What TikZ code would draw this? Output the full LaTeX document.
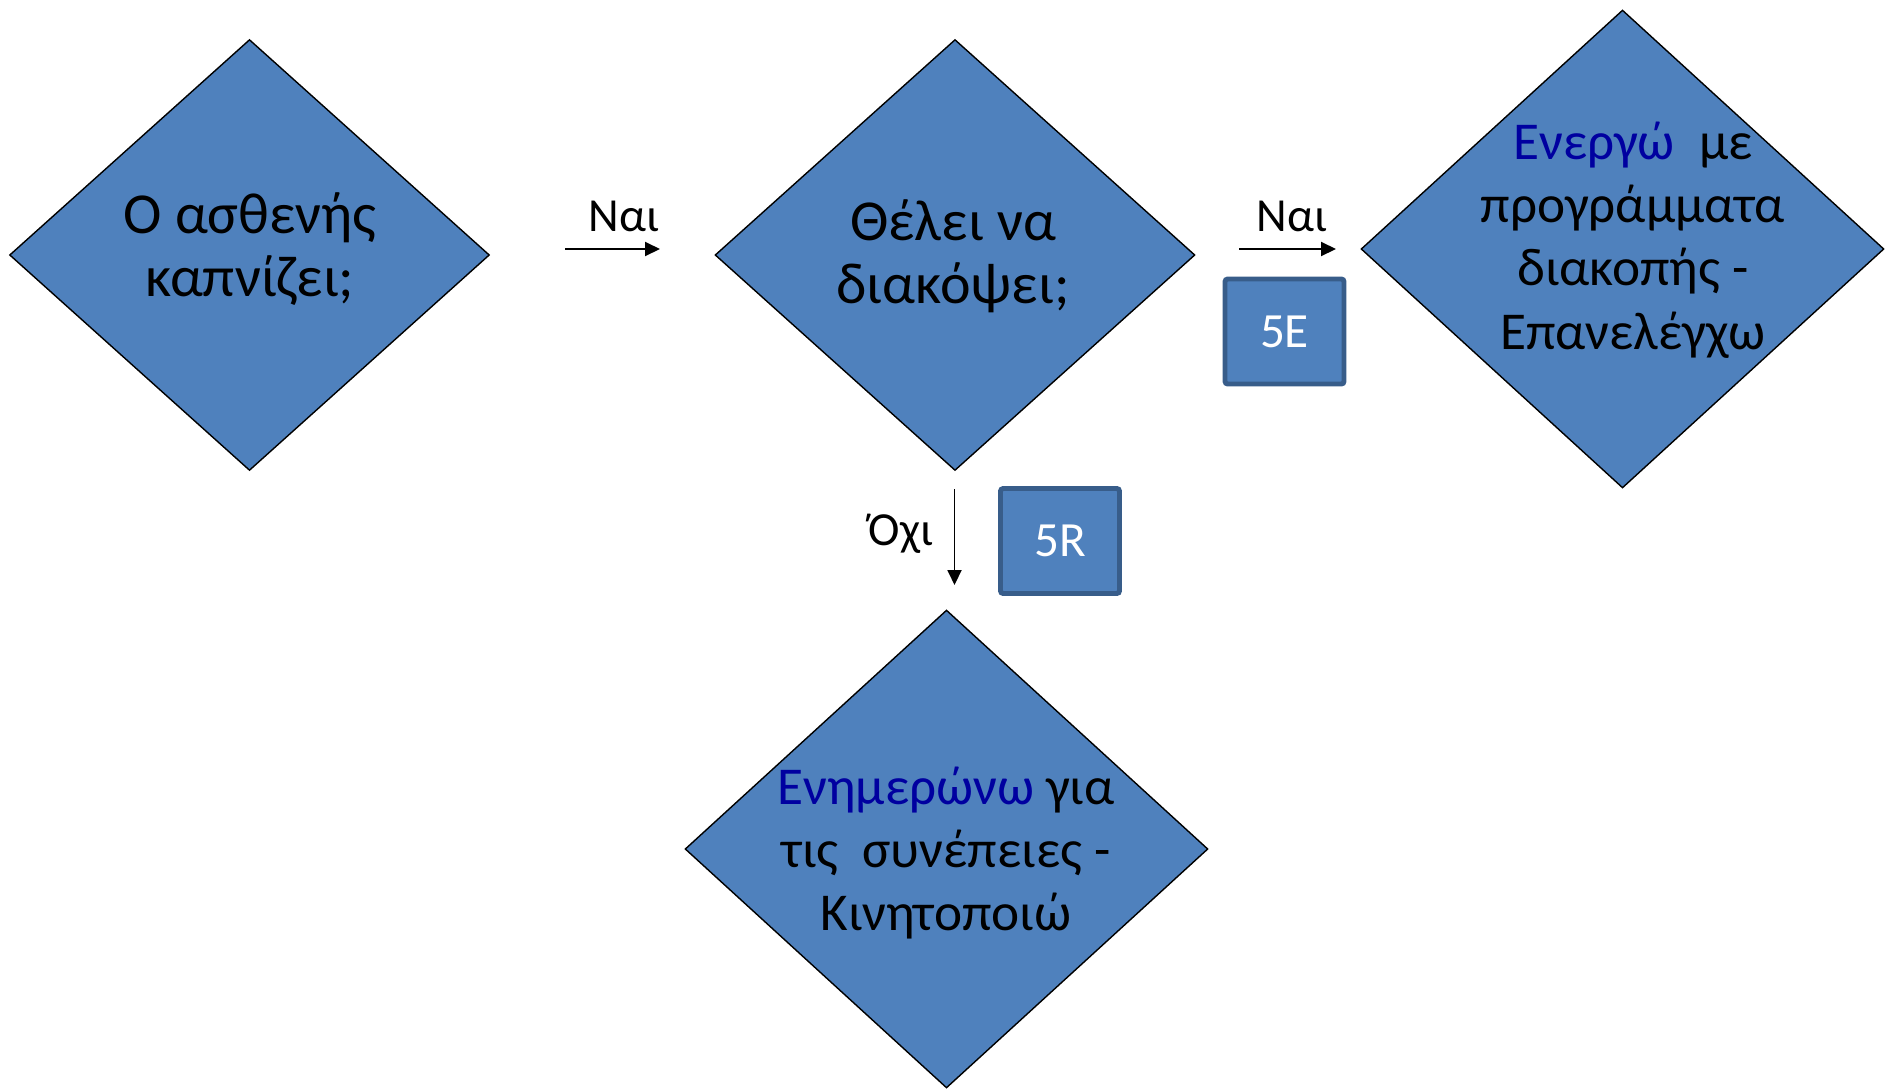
\documentclass[tikz,border=0pt]{standalone}
\usepackage{fontspec}
\setmainfont{Carlito}
\usepackage{tikz}
\definecolor{blue400}{HTML}{4F81BD}
\definecolor{blue700}{HTML}{385D8A}
\definecolor{navy800}{HTML}{0000A0}
\usetikzlibrary{arrows.meta, shapes.geometric}
\tikzstyle{rombos}=[diamond, draw=black, fill=blue400, line width=0.8pt, inner sep=0pt, minimum width=9.6cm, minimum height=8.62cm]
\tikzstyle{megalos}=[rombos, minimum width=10.46cm, minimum height=9.56cm]
\tikzstyle{keimeno}=[align=center, inner sep=0pt, font=\fontsize{33}{36}\selectfont]
\tikzstyle{mikro}=[keimeno, font=\fontsize{30.3}{36}\selectfont]
\tikzstyle{kouti}=[rectangle, draw=blue700, fill=blue400, line width=2.8pt, rounded corners=1.5pt, minimum width=2.38cm, minimum height=2.1cm, text=white, font=\fontsize{28}{33}\selectfont]
\tikzstyle{etiketa}=[anchor=base, inner sep=0pt, font=\fontsize{27}{32}\selectfont]
\tikzstyle{velos}=[line width=1.1pt, -{Triangle[length=0.3cm, width=0.28cm]}]

\begin{document}
\begin{tikzpicture}[x=0.02cm, y=-0.02cm]
	\useasboundingbox (0,0) rectangle (1885,1089);
	% rombos
	\node[rombos] (q1) at (249.5,255){};
	\node[rombos] (q2) at (955,255){};
	\node[megalos] (q3) at (1622.5,249){};
	\node[megalos] (q4) at (946.5,849){};
	\node[keimeno] (t1) at (250,249){Ο ασθενής\\καπνίζει;};
	\node[keimeno] (t2) at (953,256){Θέλει να\\διακόψει;};
	\node[mikro] (t3) at (1633,240){\textcolor{navy800}{Ενεργώ}\ \ με\\προγράμματα\\διακοπής -\\Επανελέγχω};
	\node[mikro] (t4) at (946,853){\textcolor{navy800}{Ενημερώνω} για\\τις\ \ συνέπειες -\\Κινητοποιώ};
	% koutia
	\node[kouti] (k5e) at (1284.5,331.5){5E};
	\node[kouti] (k5r) at (1060,541){5R};
	% veli
	\coordinate (a1) at (565,249);
	\coordinate (b1) at (660,249);
	\coordinate (a2) at (1239,249);
	\coordinate (b2) at (1336,249);
	\coordinate (a3) at (954.5,489);
	\coordinate (b3) at (954.5,585);
	\path[draw=black, velos] (a1) -- (b1);
	\path[draw=black, velos] (a2) -- (b2);
	\path[draw=black, velos] (a3) -- (b3);
	\node[etiketa] (nai1) at (624,231){Ναι};
	\node[etiketa] (nai2) at (1292,231){Ναι};
	\node[etiketa] (ochi) at (901,545){Όχι};
\end{tikzpicture}
\end{document}
